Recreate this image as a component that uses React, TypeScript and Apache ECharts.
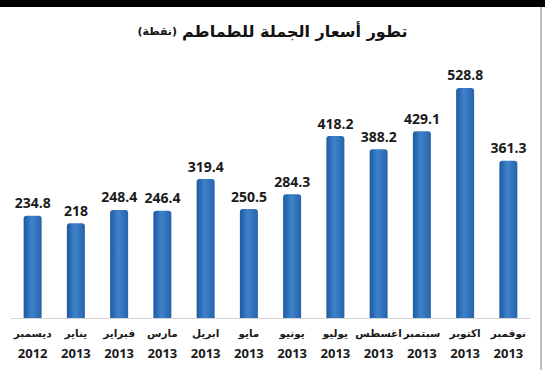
import React, { useEffect, useRef } from "react";
import * as echarts from "echarts";

const months = ["ديسمبر", "يناير", "فبراير", "مارس", "ابريل", "مايو", "يونيو", "يوليو", "اغسطس", "سبتمبر", "اكتوبر", "نوفمبر"];
const years = ["2012", "2013", "2013", "2013", "2013", "2013", "2013", "2013", "2013", "2013", "2013", "2013"];
const values = [234.8, 218, 248.4, 246.4, 319.4, 250.5, 284.3, 418.2, 388.2, 429.1, 528.8, 361.3];
const titleMain = "تطور أسعار الجملة للطماطم";
const titleUnit = "(نقطة)";

export default function App() {
  const ref = useRef<HTMLDivElement>(null);
  useEffect(() => {
    if (!ref.current) return;
    const chart = echarts.init(ref.current, null, { renderer: "svg" });
    chart.setOption({
      animation: false,
      backgroundColor: "#ffffff",
      title: {
        text: "{s|" + titleUnit + "} {b|" + titleMain + "}",
        left: "center",
        top: 17,
        textStyle: {
          rich: {
            b: { fontFamily: "DejaVu Sans", fontWeight: "bold", fontSize: 16, color: "#111" },
            s: { fontFamily: "DejaVu Sans", fontWeight: "bold", fontSize: 11, color: "#111" },
          },
        },
      },
      graphic: [
        { type: "rect", left: 0, top: 0, shape: { width: 545, height: 7 }, style: { fill: "#000" } },
        { type: "line", shape: { x1: 541, y1: 7, x2: 541, y2: 370 }, style: { stroke: "#bdbdbd", lineWidth: 2 } },
      ],
      grid: { left: 11, right: 15, top: 57, bottom: 52, containLabel: false },
      xAxis: {
        type: "category",
        data: months,
        axisLine: { show: true, lineStyle: { color: "#d4d4d4", width: 1 } },
        axisTick: { show: false },
        axisLabel: {
          interval: 0,
          margin: 5,
          formatter: (v: string, i: number) => "{m|" + v + "}\n{y|" + years[i] + "}",
          rich: {
            m: { fontFamily: "DejaVu Sans", fontWeight: "bold", fontSize: 10.5, lineHeight: 20, color: "#1a1a1a" },
            y: { fontFamily: "Open Sans", fontWeight: "bold", fontSize: 13, lineHeight: 20, color: "#1a1a1a" },
          },
        },
      },
      yAxis: {
        type: "value",
        min: 0,
        max: 600,
        show: false,
        splitLine: { show: false },
      },
      series: [
        {
          type: "bar",
          data: values,
          barWidth: 18,
          itemStyle: {
            borderRadius: [3, 3, 0, 0],
            color: new echarts.graphic.LinearGradient(0, 0, 1, 0, [
              { offset: 0, color: "#1d5a9f" },
              { offset: 0.45, color: "#3f82cc" },
              { offset: 1, color: "#2563a8" },
            ]),
          },
          label: {
            show: true,
            position: "top",
            distance: 6,
            fontFamily: "Open Sans",
            fontWeight: "bold",
            fontSize: 14,
            color: "#1a1a1a",
          },
        },
      ],
    });
    return () => chart.dispose();
  }, []);
  return <div ref={ref} style={{ position: "absolute", left: 0, top: 0, width: 545, height: 370 }} />;
}
